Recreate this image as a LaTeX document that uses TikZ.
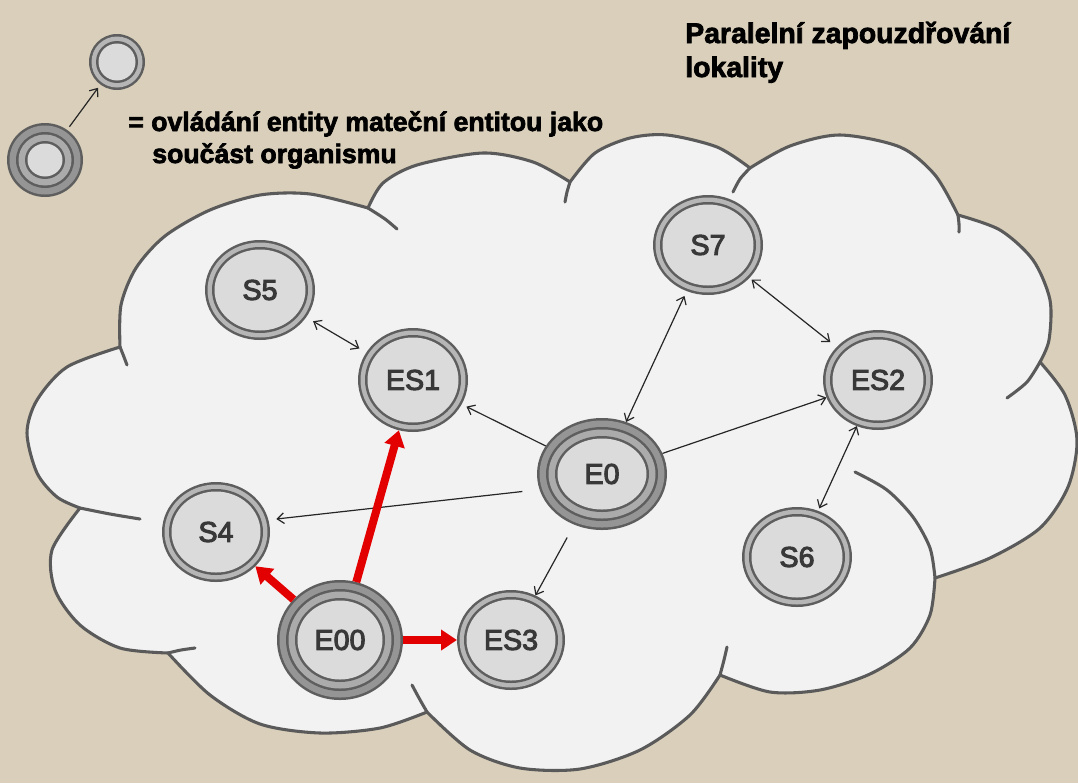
\documentclass[tikz,border=0pt]{standalone}
\usepackage{fontspec}
\setmainfont{Liberation Sans}
\newfontfamily\ringfont[FakeBold=3.5]{Liberation Sans}
\newfontfamily\heavyfont[FakeBold=2.5]{Liberation Sans Bold}
\usetikzlibrary{shapes.geometric,arrows.meta}

\definecolor{linen}{HTML}{D9CFBA}
\definecolor{cloudfill}{HTML}{F2F2F2}
\definecolor{cloudline}{HTML}{5A5A5A}
\definecolor{ringdark}{HTML}{5E5E5E}
\definecolor{bandlight}{HTML}{B6B6B6}
\definecolor{bandmid}{HTML}{959595}
\definecolor{bandsoft}{HTML}{ABABAB}
\definecolor{corefill}{HTML}{DBDBDB}
\definecolor{linkred}{HTML}{E30000}
\definecolor{labelgray}{HTML}{383838}

% entity with one inner ring: name, x, y, x radius, y radius, label
\newcommand{\entityS}[6]{%
  \fill[ringdark] (#2,#3) ellipse [x radius=#4, y radius=#5];
  \fill[bandlight] (#2,#3) ellipse [x radius=#4-2.5, y radius=#5-2.5];
  \fill[ringdark] (#2,#3) ellipse [x radius=#4-7, y radius=#5-7];
  \fill[corefill] (#2,#3) ellipse [x radius=#4-9.5, y radius=#5-9.5];
  \node[nodelabel, minimum width={1.5*#4*1pt}, minimum height={1.5*#5*1pt}] (#1) at (#2,#3) {#6};
}
% parent entity with two inner rings
\newcommand{\entityE}[6]{%
  \fill[ringdark] (#2,#3) ellipse [x radius=#4, y radius=#5];
  \fill[bandmid] (#2,#3) ellipse [x radius=#4-2.5, y radius=#5-2.5];
  \fill[ringdark] (#2,#3) ellipse [x radius=#4-9, y radius=#5-9];
  \fill[bandsoft] (#2,#3) ellipse [x radius=#4-11.5, y radius=#5-11.5];
  \fill[ringdark] (#2,#3) ellipse [x radius=#4-18, y radius=#5-18];
  \fill[corefill] (#2,#3) ellipse [x radius=#4-20.5, y radius=#5-20.5];
  \node[nodelabel, minimum width={1.5*#4*1pt}, minimum height={1.5*#5*1pt}] (#1) at (#2,#3) {#6};
}

\begin{document}
\begin{tikzpicture}[x=0.75pt, y=-0.75pt,
  nodelabel/.style={ellipse, inner sep=0pt, outer sep=0pt, text=labelgray,
    font=\ringfont\fontsize{21.5}{21.5}\selectfont},
  cloudedge/.style={draw=cloudline, line width=2.3pt, line join=round, line cap=round},
  thinlink/.style={draw=black!85, line width=0.9pt, -{Straight Barb[length=5pt,width=8pt]}},
  thinboth/.style={draw=black!85, line width=0.9pt, {Straight Barb[length=5pt,width=8pt]}-{Straight Barb[length=5pt,width=8pt]}},
  redlink/.style={draw=linkred, line width=6pt, -{Triangle[length=12pt,width=15pt]}},
  titletext/.style={anchor=base west, inner sep=0pt, font=\heavyfont\fontsize{21.3}{21.3}\selectfont},
  keytext/.style={anchor=base west, inner sep=0pt, font=\heavyfont\fontsize{20}{20}\selectfont}]

\useasboundingbox (0,0) rectangle (1078,783);
\fill[linen] (0,0) rectangle (1078,783);

% cloud outline, lobe by lobe
\path[cloudedge, fill=cloudfill]
  plot[smooth] coordinates {(80,508) (57,497) (37,473) (27,433) (37,400) (67,367) (120,347)}
  -- plot[smooth] coordinates {(120,347) (121,305) (136,268) (165,236) (210,210) (260,195) (310,194) (368,208)}
  -- plot[smooth] coordinates {(368,208) (383,183) (417,165) (483,153) (533,162) (570,182)}
  -- plot[smooth] coordinates {(570,182) (595,153) (630,138) (667,135) (717,147) (750,168)}
  -- plot[smooth] coordinates {(750,168) (790,146) (840,135) (900,147) (935,175) (958,215)}
  -- plot[smooth] coordinates {(958,215) (1000,230) (1033,260) (1050,300) (1049,340) (1040,362)}
  -- plot[smooth] coordinates {(1040,362) (1065,395) (1077,440) (1068,487) (1040,528) (990,558) (935,578)}
  -- plot[smooth] coordinates {(935,578) (930,615) (910,648) (870,674) (820,690) (770,692) (720,675)}
  -- plot[smooth] coordinates {(720,675) (690,715) (640,750) (580,769) (520,768) (470,750) (427,712)}
  -- plot[smooth] coordinates {(427,712) (380,728) (320,733) (260,724) (210,695) (168,653)}
  -- plot[smooth] coordinates {(168,653) (120,648) (80,625) (55,590) (52,550) (80,508)}
  -- cycle;

% short inner continuations of the lobes
\draw[cloudedge] plot[smooth] coordinates {(120,347) (124,357) (127,365)};
\draw[cloudedge] plot[smooth] coordinates {(368,208) (385,219) (397,229)};
\draw[cloudedge] plot[smooth] coordinates {(570,182) (567,192) (565,202)};
\draw[cloudedge] plot[smooth] coordinates {(750,168) (740,179) (733,192)};
\draw[cloudedge] plot[smooth] coordinates {(958,215) (959,224) (959,232)};
\draw[cloudedge] plot[smooth] coordinates {(1040,362) (1027,382) (1007,398)};
\draw[cloudedge] plot[smooth] coordinates {(935,578) (930,548) (913,517) (887,490) (855,472)};
\draw[cloudedge] plot[smooth] coordinates {(720,675) (724,660) (727,647)};
\draw[cloudedge] plot[smooth] coordinates {(427,712) (419,698) (412,685)};
\draw[cloudedge] plot[smooth] coordinates {(168,653) (181,650) (195,648)};
\draw[cloudedge] plot[smooth] coordinates {(80,508) (110,514) (140,519)};

% entities
\entityS{s5}{260}{290}{55}{50}{S5}
\entityS{es1}{413}{380}{55}{52}{ES1}
\entityS{s7}{708}{245}{55}{50}{S7}
\entityS{es2}{878}{380}{55}{50}{ES2}
\entityS{s6}{797}{557}{55}{50}{S6}
\entityS{s4}{216}{532}{54}{50}{S4}
\entityS{es3}{511}{640}{54}{50}{ES3}
\entityE{e0}{602}{474}{65}{56}{E0}
\entityE{e00}{340}{640}{63}{60}{E00}

% key
\entityS{keysmall}{117}{62}{28}{28}{}
\entityE{keybig}{45}{160}{38}{37}{}
\draw[thinlink, shorten <=3pt, shorten >=3pt] (keybig) -- (keysmall);

% links
\draw[thinboth, shorten <=6pt, shorten >=6pt] (s5) -- (es1);
\draw[thinlink, shorten >=4pt] (e0) -- (es1);
\draw[thinboth, shorten >=4pt] (e0) -- (s7);
\draw[thinlink] (e0) -- (es2);
\draw[thinboth, shorten <=2pt, shorten >=6pt] (s7) -- (es2);
\draw[thinboth, shorten >=2pt] (es2) -- (s6);
\draw[thinlink, shorten <=13pt, shorten >=6pt] (e0.194) -- (s4.13);
\draw[thinlink, shorten <=11pt] (e0) -- (es3);

\draw[redlink] (e00) -- (s4);
\draw[redlink] (e00) -- (es1);
\draw[redlink] (e00) -- (es3);

% texts
\node[titletext] (title1) at (685,43) {Paralelní zapouzdřování};
\node[titletext] (title2) at (685,77) {lokality};
\node[keytext] (key1) at (128,131) {= ovládání entity mateční entitou jako};
\node[keytext] (key2) at (152,163) {součást organismu};
\end{tikzpicture}
\end{document}
